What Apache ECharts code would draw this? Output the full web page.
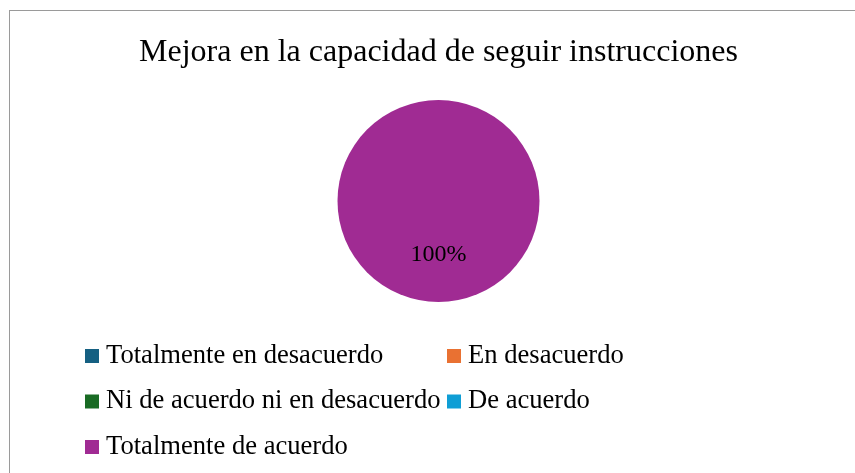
<!DOCTYPE html>
<html>
<head>
    <meta charset="utf-8">
    <title>Mejora en la capacidad de seguir instrucciones</title>
    <script src="https://cdn.jsdelivr.net/npm/echarts@6/dist/echarts.min.js"></script>
    <style>
        html, body { margin: 0; padding: 0; background: #fff; overflow: hidden; width: 855px; height: 473px; }
        #chart {
            position: absolute; left: 9px; top: 10px;
            width: 857px; height: 470px;
            border: 1px solid #9a9a9a;
        }
    </style>
</head>
<body>
<div id="chart"></div>
<script type="text/javascript">
var titleText = 'Mejora en la capacidad de seguir instrucciones';
var categories = ['Totalmente en desacuerdo', 'En desacuerdo', 'Ni de acuerdo ni en desacuerdo', 'De acuerdo', 'Totalmente de acuerdo'];
var percentages = [0, 0, 0, 0, 100];
var colors = ['#156082', '#E97132', '#196B24', '#0F9ED5', '#A02B93'];

var serif = "'Liberation Serif', 'Times New Roman', serif";

var leftCol = [], rightCol = [];
for (var i = 0; i < categories.length; i++) {
    if (i % 2 == 0) leftCol.push(categories[i]); else rightCol.push(categories[i]);
}

var pieData = [];
for (var i = 0; i < categories.length; i++) {
    pieData.push({ name: categories[i], value: percentages[i] });
}

function legendCfg(names, left) {
    return {
        data: names,
        orient: 'vertical',
        left: left,
        top: 330,
        padding: 0,
        icon: 'rect',
        itemWidth: 14,
        itemHeight: 14,
        itemGap: 15.5,
        selectedMode: false,
        textStyle: { fontFamily: serif, fontSize: 26.6, color: '#000', lineHeight: 30, padding: [0, 0, 0, 2] }
    };
}

var myChart = echarts.init(document.getElementById('chart'));
var option = {
    animation: false,
    color: colors,
    title: {
        text: titleText,
        left: 'center',
        top: 21,
        textStyle: { fontFamily: serif, fontSize: 32, fontWeight: 'normal', color: '#000' }
    },
    legend: [legendCfg(leftCol, 75), legendCfg(rightCol, 437)],
    series: [{
        type: 'pie',
        center: ['50%', 190],
        radius: 101,
        startAngle: 90,
        clockwise: true,
        minAngle: 0,
        emphasis: { disabled: true },
        itemStyle: { borderWidth: 0 },
        label: {
            position: 'inside',
            fontFamily: serif,
            fontSize: 24,
            color: '#000',
            formatter: function (p) { return p.value > 0 ? p.value + '%' : ''; }
        },
        labelLine: { show: false },
        data: pieData
    }]
};
myChart.setOption(option);
</script>
</body>
</html>
